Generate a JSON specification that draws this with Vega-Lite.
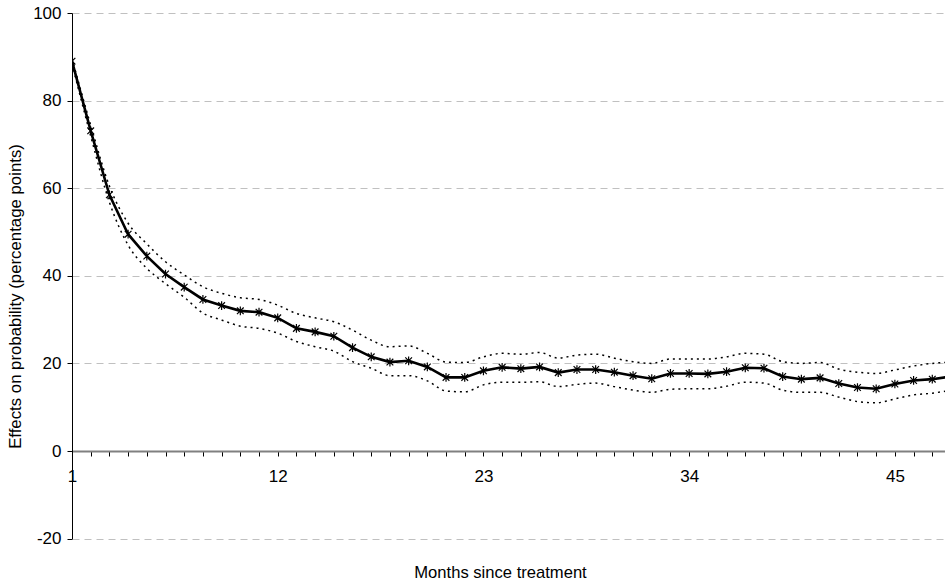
{
  "$schema": "https://vega.github.io/schema/vega-lite/v6.json",
  "width": 873,
  "height": 525.6,
  "autosize": {"type": "none"},
  "padding": {"left": 72, "top": 13, "right": 0, "bottom": 44.4},
  "background": "white",
  "config": {"view": {"stroke": null}, "font": "Liberation Sans"},
  "data": {"values": [
    {"month": 1, "est": 89.0, "upper": 89.6, "lower": 88.4},
    {"month": 2, "est": 73.1, "upper": 74.4, "lower": 71.9},
    {"month": 3, "est": 58.5, "upper": 60.5, "lower": 56.8},
    {"month": 4, "est": 49.5, "upper": 52.0, "lower": 47.0},
    {"month": 5, "est": 44.5, "upper": 47.3, "lower": 41.7},
    {"month": 6, "est": 40.4, "upper": 43.2, "lower": 38.2},
    {"month": 7, "est": 37.4, "upper": 40.2, "lower": 35.1},
    {"month": 8, "est": 34.6, "upper": 37.5, "lower": 31.5},
    {"month": 9, "est": 33.2, "upper": 36.0, "lower": 29.9},
    {"month": 10, "est": 32.0, "upper": 35.0, "lower": 28.5},
    {"month": 11, "est": 31.7, "upper": 34.6, "lower": 28.0},
    {"month": 12, "est": 30.4, "upper": 33.3, "lower": 26.9},
    {"month": 13, "est": 28.0, "upper": 31.4, "lower": 25.0},
    {"month": 14, "est": 27.2, "upper": 30.4, "lower": 23.8},
    {"month": 15, "est": 26.2, "upper": 29.5, "lower": 22.8},
    {"month": 16, "est": 23.6, "upper": 27.6, "lower": 20.4},
    {"month": 17, "est": 21.5, "upper": 25.3, "lower": 18.9},
    {"month": 18, "est": 20.3, "upper": 23.8, "lower": 17.2},
    {"month": 19, "est": 20.6, "upper": 24.0, "lower": 17.2},
    {"month": 20, "est": 19.2, "upper": 22.3, "lower": 16.0},
    {"month": 21, "est": 16.8, "upper": 20.3, "lower": 13.7},
    {"month": 22, "est": 16.8, "upper": 20.2, "lower": 13.5},
    {"month": 23, "est": 18.3, "upper": 21.5, "lower": 15.1},
    {"month": 24, "est": 19.1, "upper": 22.3, "lower": 15.7},
    {"month": 25, "est": 18.8, "upper": 22.1, "lower": 15.7},
    {"month": 26, "est": 19.2, "upper": 22.5, "lower": 15.8},
    {"month": 27, "est": 17.9, "upper": 21.2, "lower": 14.7},
    {"month": 28, "est": 18.6, "upper": 21.9, "lower": 15.2},
    {"month": 29, "est": 18.6, "upper": 22.1, "lower": 15.5},
    {"month": 30, "est": 18.0, "upper": 21.2, "lower": 14.7},
    {"month": 31, "est": 17.2, "upper": 20.4, "lower": 13.9},
    {"month": 32, "est": 16.5, "upper": 20.0, "lower": 13.4},
    {"month": 33, "est": 17.7, "upper": 21.0, "lower": 14.1},
    {"month": 34, "est": 17.7, "upper": 21.0, "lower": 14.2},
    {"month": 35, "est": 17.6, "upper": 21.0, "lower": 14.2},
    {"month": 36, "est": 18.1, "upper": 21.5, "lower": 14.8},
    {"month": 37, "est": 19.0, "upper": 22.3, "lower": 15.7},
    {"month": 38, "est": 18.9, "upper": 22.1, "lower": 15.5},
    {"month": 39, "est": 17.0, "upper": 20.4, "lower": 13.9},
    {"month": 40, "est": 16.4, "upper": 20.0, "lower": 13.4},
    {"month": 41, "est": 16.7, "upper": 20.2, "lower": 13.4},
    {"month": 42, "est": 15.4, "upper": 18.7, "lower": 12.3},
    {"month": 43, "est": 14.5, "upper": 18.0, "lower": 11.3},
    {"month": 44, "est": 14.2, "upper": 17.7, "lower": 11.0},
    {"month": 45, "est": 15.3, "upper": 18.5, "lower": 11.9},
    {"month": 46, "est": 16.1, "upper": 19.4, "lower": 12.8},
    {"month": 47, "est": 16.4, "upper": 20.0, "lower": 13.2},
    {"month": 48, "est": 17.0, "upper": 20.3, "lower": 13.9}
  ]},
  "encoding": {
    "x": {
      "field": "month",
      "type": "quantitative",
      "scale": {"domain": [1, 47.68], "nice": false, "zero": false},
      "axis": {
        "title": "Months since treatment",
        "values": [1,2,3,4,5,6,7,8,9,10,11,12,13,14,15,16,17,18,19,20,21,22,23,24,25,26,27,28,29,30,31,32,33,34,35,36,37,38,39,40,41,42,43,44,45,46,47],
        "labelExpr": "(datum.value - 1) % 11 == 0 ? datum.label : ''",
        "offset": -87.6,
        "grid": false,
        "domainColor": "#808080",
        "domainWidth": 2,
        "tickColor": "#000000",
        "tickSize": 5,
        "tickWidth": 1,
        "labelFontSize": 17,
        "labelColor": "#000000",
        "labelBaseline": "alphabetic",
        "labelPadding": 25,
        "labelFlush": false,
        "labelOverlap": false,
        "titleFontSize": 16.6,
        "titleFontWeight": "normal",
        "titleColor": "#000000",
        "titleX": 428,
        "titleY": 126,
        "titleAlign": "center",
        "titleBaseline": "alphabetic"
      }
    }
  },
  "layer": [
    {
      "mark": {"type": "line", "color": "#000000", "strokeWidth": 1.5, "strokeDash": [2, 4], "interpolate": "monotone", "clip": true},
      "encoding": {
        "y": {
          "field": "upper",
          "type": "quantitative",
          "scale": {"domain": [-20, 100], "nice": false, "zero": false},
          "axis": {
            "title": "Effects on probability (percentage points)",
            "values": [-20, 0, 20, 40, 60, 80, 100],
            "labelExpr": "datum.value + ''",
            "grid": true,
            "gridColor": "#c0c0c0",
            "gridDash": [7, 5],
            "gridWidth": 1,
            "domainColor": "#000000",
            "domainWidth": 1,
            "tickColor": "#000000",
            "tickSize": 5,
            "tickWidth": 1,
            "labelFontSize": 17,
            "labelColor": "#000000",
            "labelPadding": 6,
            "titleFontSize": 16.8,
            "titleFontWeight": "normal",
            "titleColor": "#000000",
            "titleX": -52,
            "titleY": 283,
            "titleAlign": "center",
            "titleBaseline": "alphabetic"
          }
        }
      }
    },
    {
      "mark": {"type": "line", "color": "#000000", "strokeWidth": 1.5, "strokeDash": [2, 4], "interpolate": "monotone", "clip": true},
      "encoding": {"y": {"field": "lower", "type": "quantitative"}}
    },
    {
      "mark": {"type": "line", "color": "#000000", "strokeWidth": 2.6, "clip": true},
      "encoding": {"y": {"field": "est", "type": "quantitative"}}
    },
    {
      "mark": {"type": "point", "shape": "M-1,-1L1,1M-1,1L1,-1M0,-1.3L0,1.3", "size": 45, "stroke": "#000000", "strokeWidth": 1.2, "filled": false, "opacity": 1, "clip": true},
      "encoding": {"y": {"field": "est", "type": "quantitative"}}
    }
  ]
}
